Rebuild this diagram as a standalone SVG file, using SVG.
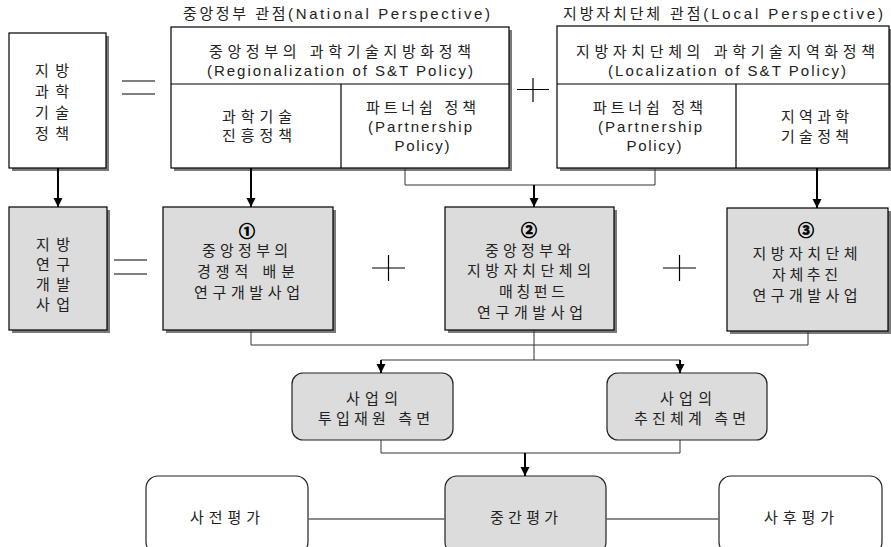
<svg xmlns="http://www.w3.org/2000/svg" width="891" height="547" viewBox="0 0 891 547">
<defs>
<marker id="ah" markerUnits="userSpaceOnUse" markerWidth="10" markerHeight="10" refX="9" refY="4.5" orient="auto">
<path d="M0,0 L9,4.5 L0,9 z" fill="#000"/>
</marker>
<style>
text{font-family:"Liberation Sans","Noto Sans CJK KR",sans-serif;font-size:15px;fill:#222;text-anchor:middle}
.num{font-weight:bold;font-family:"Noto Sans CJK KR",sans-serif;font-size:16px;fill:#000;stroke:#000;stroke-width:0.7}
.sh{fill:#7a7a7a}
.bw{fill:#fff;stroke:#000;stroke-width:1.2}
.bg{fill:#dcdcdc;stroke:#000;stroke-width:1.2}
.rw{fill:#fff;stroke:#222;stroke-width:1.2}
.rg{fill:#dcdcdc;stroke:#222;stroke-width:1.2}
.dv{stroke:#000;stroke-width:1.2;fill:none}
.thin{stroke:#333;stroke-width:1;fill:none}
.gl{stroke:#666;stroke-width:1.5;fill:none}
.arr{stroke:#000;stroke-width:2;fill:none;marker-end:url(#ah)}
.sym{stroke:#000;stroke-width:1.2;fill:none}
</style>
</defs>
<rect width="891" height="547" fill="#fff"/>

<g id="title-national"><text x="336.5" y="19" textLength="307" lengthAdjust="spacing">중앙정부 관점(National Perspective)</text></g>
<g id="title-local"><text x="723" y="19" textLength="320" lengthAdjust="spacing">지방자치단체 관점(Local Perspective)</text></g>

<g id="regional-st-policy">
<rect class="sh" x="12" y="36" width="97" height="135"/>
<rect class="bw" x="9" y="33" width="97" height="135"/>
<text x="52" y="76" textLength="34" lengthAdjust="spacing">지방</text>
<text x="52" y="97" textLength="34" lengthAdjust="spacing">과학</text>
<text x="52" y="118" textLength="34" lengthAdjust="spacing">기술</text>
<text x="52" y="139" textLength="34" lengthAdjust="spacing">정책</text>
</g>

<g id="eq1"><path class="sym" d="M122,81 H155 M122,94 H155"/></g>

<g id="national-box">
<rect class="sh" x="174" y="30" width="338" height="141"/>
<rect class="bw" x="171" y="27" width="338" height="141"/>
<path class="dv" d="M171,84 H509 M341,84 V168"/>
<text x="340" y="57" textLength="262" lengthAdjust="spacing">중앙정부의 과학기술지방화정책</text>
<text x="340" y="76" textLength="266" lengthAdjust="spacing">(Regionalization of S&amp;T Policy)</text>
<text x="257" y="122" textLength="70" lengthAdjust="spacing">과학기술</text>
<text x="257" y="141" textLength="70" lengthAdjust="spacing">진흥정책</text>
<text x="421" y="113" textLength="110" lengthAdjust="spacing">파트너쉽 정책</text>
<text x="420" y="132" textLength="104" lengthAdjust="spacing">(Partnership</text>
<text x="422" y="151" textLength="55" lengthAdjust="spacing">Policy)</text>
</g>

<g id="plus1"><path class="sym" d="M517,89.5 H549 M533,78 V102"/></g>

<g id="local-box">
<rect class="sh" x="560" y="29" width="332" height="142"/>
<rect class="bw" x="557" y="26" width="332" height="142"/>
<path class="dv" d="M557,84 H889 M736,84 V168"/>
<text x="725.5" y="57" textLength="299" lengthAdjust="spacing">지방자치단체의 과학기술지역화정책</text>
<text x="727" y="76" textLength="238" lengthAdjust="spacing">(Localization of S&amp;T Policy)</text>
<text x="648" y="113" textLength="110" lengthAdjust="spacing">파트너쉽 정책</text>
<text x="650" y="132" textLength="104" lengthAdjust="spacing">(Partnership</text>
<text x="654" y="151" textLength="55" lengthAdjust="spacing">Policy)</text>
<text x="815" y="122" textLength="68" lengthAdjust="spacing">지역과학</text>
<text x="815" y="142" textLength="68" lengthAdjust="spacing">기술정책</text>
</g>

<g id="regional-rnd">
<rect class="sh" x="12" y="210" width="98" height="123"/>
<rect class="bg" x="9" y="207" width="98" height="123"/>
<text x="53" y="250" textLength="34" lengthAdjust="spacing">지방</text>
<text x="53" y="270" textLength="34" lengthAdjust="spacing">연구</text>
<text x="53" y="290" textLength="34" lengthAdjust="spacing">개발</text>
<text x="53" y="310" textLength="34" lengthAdjust="spacing">사업</text>
</g>

<g id="eq2"><path class="sym" d="M114,260 H147 M114,274 H147"/></g>

<g id="rnd1">
<rect class="sh" x="166" y="210" width="170" height="123"/>
<rect class="bg" x="163" y="207" width="170" height="123"/>
<text class="num" x="247" y="237">①</text>
<text x="245" y="256" textLength="86" lengthAdjust="spacing">중앙정부의</text>
<text x="246" y="277" textLength="98" lengthAdjust="spacing">경쟁적 배분</text>
<text x="247" y="298" textLength="106" lengthAdjust="spacing">연구개발사업</text>
</g>

<g id="plus2"><path class="sym" d="M372,268 H405 M388.5,255 V281"/></g>

<g id="rnd2">
<rect class="sh" x="448" y="210" width="169" height="123"/>
<rect class="bg" x="445" y="207" width="169" height="123"/>
<text class="num" x="529" y="236">②</text>
<text x="528" y="256" textLength="86" lengthAdjust="spacing">중앙정부와</text>
<text x="529" y="276" textLength="124" lengthAdjust="spacing">지방자치단체의</text>
<text x="532" y="297" textLength="66" lengthAdjust="spacing">매칭펀드</text>
<text x="530" y="318" textLength="106" lengthAdjust="spacing">연구개발사업</text>
</g>

<g id="plus3"><path class="sym" d="M663,268 H696 M679.5,255 V281"/></g>

<g id="rnd3">
<rect class="sh" x="730" y="211" width="161" height="123"/>
<rect class="bg" x="727" y="208" width="161" height="123"/>
<text class="num" x="806" y="236">③</text>
<text x="805" y="259" textLength="105" lengthAdjust="spacing">지방자치단체</text>
<text x="805" y="280" textLength="66" lengthAdjust="spacing">자체추진</text>
<text x="805" y="301" textLength="105" lengthAdjust="spacing">연구개발사업</text>
</g>

<g id="input-resources">
<rect class="rg" x="292" y="373" width="161" height="67" rx="11"/>
<text x="372" y="404" textLength="52" lengthAdjust="spacing">사업의</text>
<text x="374" y="424" textLength="112" lengthAdjust="spacing">투입재원 측면</text>
</g>

<g id="promotion-system">
<rect class="rg" x="607" y="373" width="160" height="67" rx="11"/>
<text x="686" y="404" textLength="52" lengthAdjust="spacing">사업의</text>
<text x="690" y="424" textLength="112" lengthAdjust="spacing">추진체계 측면</text>
</g>

<g id="pre-eval">
<rect class="rw" x="146" y="476" width="162" height="78" rx="12"/>
<text x="225" y="523" textLength="70" lengthAdjust="spacing">사전평가</text>
</g>
<g id="mid-eval">
<rect class="rg" x="445" y="476" width="161" height="78" rx="12"/>
<text x="524" y="523" textLength="68" lengthAdjust="spacing">중간평가</text>
</g>
<g id="post-eval">
<rect class="rw" x="719" y="476" width="163" height="78" rx="12"/>
<text x="799" y="523" textLength="70" lengthAdjust="spacing">사후평가</text>
</g>

<g id="connectors">
<path class="arr" d="M58,168 V207"/>
<path class="arr" d="M251,168 V207"/>
<path class="thin" d="M405,168 V185 H655 V168"/>
<path class="arr" d="M534,185 V207"/>
<path class="arr" d="M817,168 V208"/>
<path class="thin" d="M251,330 V345 H808 V331"/>
<path class="thin" d="M534,330 V360"/>
<path class="thin" d="M381,360 H680"/>
<path class="arr" d="M381,360 V373"/>
<path class="arr" d="M680,360 V373"/>
<path class="thin" d="M381,440 V453 H680 V440"/>
<path class="arr" d="M525,453 V476"/>
<path class="gl" d="M308,519 H445 M606,519 H719"/>
</g>
</svg>
